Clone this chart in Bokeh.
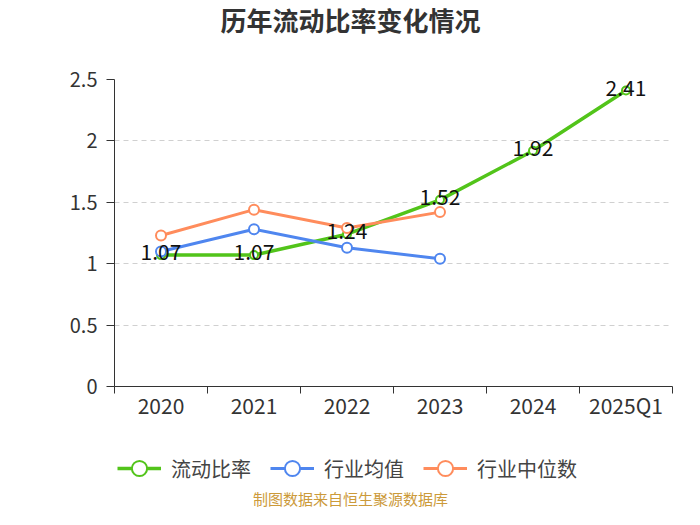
from bokeh.plotting import figure
from bokeh.models import (Range1d, FixedTicker, Legend, LegendItem, Label,
                          ColumnDataSource)
from bokeh.layouts import column
from bokeh.embed import file_html
from bokeh.resources import INLINE
from bokeh.core.properties import value

# ---- data ----
categories = ["2020", "2021", "2022", "2023", "2024", "2025Q1"]
current_ratio = [1.07, 1.07, 1.24, 1.52, 1.92, 2.41]
industry_mean = [1.10, 1.28, 1.13, 1.04]
industry_median = [1.23, 1.44, 1.29, 1.42]
y_ticks = [0, 0.5, 1, 1.5, 2, 2.5]
y_tick_labels = ["0", "0.5", "1", "1.5", "2", "2.5"]
series_names = ["流动比率", "行业均值", "行业中位数"]
title_text = "历年流动比率变化情况"
source_text = "制图数据来自恒生聚源数据库"

GREEN = "#52C41A"
BLUE = "#4F86EF"
ORANGE = "#FF8C5C"
FONT = "Noto Sans CJK SC"
W = 684
TOP_H, MAIN_H, BOT_H = 40, 400, 69
FRAME_LEFT = 114  # frames of the stacked figures are aligned by the column layout

xs = list(range(len(categories)))
n_mean = len(industry_mean)
n_med = len(industry_median)


def blank(height, x_range=None):
    f = figure(width=W, height=height, output_backend="svg", toolbar_location=None,
               x_range=x_range or Range1d(0, 1), y_range=Range1d(0, 1),
               min_border=0, min_border_left=0, min_border_right=0,
               min_border_top=0, min_border_bottom=0)
    f.axis.visible = False
    f.grid.visible = False
    f.outline_line_color = None
    f.background_fill_color = "white"
    f.border_fill_color = "white"
    return f


# ---- title strip ----
ft = blank(TOP_H)
ft.add_layout(Label(x=350 - FRAME_LEFT, y=TOP_H - 19, x_units="screen", y_units="screen",
                    text=title_text, text_align="center", text_baseline="middle",
                    text_font=FONT, text_font_size="26px", text_font_style="bold",
                    text_color="#333333"))

# ---- main chart ----
p = figure(width=W, height=MAIN_H, output_backend="svg", toolbar_location=None,
           x_range=Range1d(-0.5, len(categories) - 0.5), y_range=Range1d(0, 2.5),
           min_border_left=FRAME_LEFT, min_border_right=12, min_border_top=79 - TOP_H,
           min_border_bottom=TOP_H + MAIN_H - 386)
p.outline_line_color = None
p.background_fill_color = "white"
p.border_fill_color = "white"

p.xaxis.ticker = FixedTicker(ticks=xs, minor_ticks=[x - 0.5 for x in xs] + [xs[-1] + 0.5])
p.xaxis.major_label_overrides = {x: c for x, c in zip(xs, categories)}
p.xaxis.major_tick_line_color = None
p.xaxis.major_tick_out = 0
p.xaxis.major_tick_in = 0
p.xaxis.minor_tick_out = 7
p.xaxis.minor_tick_in = 0
p.xaxis.minor_tick_line_color = "#333333"
p.xaxis.axis_line_color = "#333333"
p.xaxis.major_label_standoff = -4
p.xaxis.major_label_text_font = FONT
p.xaxis.major_label_text_font_size = "21px"
p.xaxis.major_label_text_color = "#333333"

p.yaxis.ticker = FixedTicker(ticks=y_ticks, minor_ticks=[])
p.yaxis.major_label_overrides = {t: l for t, l in zip(y_ticks, y_tick_labels)}
p.yaxis.major_tick_out = 8
p.yaxis.major_tick_in = 0
p.yaxis.major_tick_line_color = "#333333"
p.yaxis.axis_line_color = "#333333"
p.yaxis.major_label_standoff = 9
p.yaxis.major_label_text_font = FONT
p.yaxis.major_label_text_font_size = "20px"
p.yaxis.major_label_text_color = "#333333"

p.xgrid.grid_line_color = None
p.ygrid.grid_line_color = "#d0d0d0"
p.ygrid.grid_line_dash = "5 4"
p.ygrid.grid_line_width = 1.2


def draw_series(fig):
    l1 = fig.line(xs, current_ratio, line_color=GREEN, line_width=3.5)
    l2 = fig.line(xs[:n_mean], industry_mean, line_color=BLUE, line_width=3)
    l3 = fig.line(xs[:n_med], industry_median, line_color=ORANGE, line_width=3)
    s1 = fig.scatter(xs, current_ratio, size=8, marker="circle", fill_color="white",
                     line_color=GREEN, line_width=2)
    s2 = fig.scatter(xs[:n_mean], industry_mean, size=10, marker="circle",
                     fill_color="white", line_color=BLUE, line_width=2)
    s3 = fig.scatter(xs[:n_med], industry_median, size=10, marker="circle",
                     fill_color="white", line_color=ORANGE, line_width=2)
    return (l1, s1), (l2, s2), (l3, s3)


draw_series(p)
lab_src = ColumnDataSource(dict(x=xs, y=current_ratio,
                                t=[f"{v:.2f}" for v in current_ratio]))
p.text(x="x", y="y", text="t", source=lab_src, text_align="center",
       text_baseline="middle", y_offset=-3, text_font=value(FONT),
       text_font_size="21px", text_color="#111111")

# ---- legend + source strip (series drawn off-range, used only as legend keys) ----
fb = blank(BOT_H, x_range=Range1d(100, 101))
keys = draw_series(fb)
legend = Legend(items=[LegendItem(label=n, renderers=list(k))
                       for n, k in zip(series_names, keys)],
                orientation="horizontal", location=(117 - FRAME_LEFT, 22),
                glyph_width=44, glyph_height=38, label_standoff=10, spacing=19,
                padding=0, margin=0, border_line_color=None,
                background_fill_alpha=0,
                label_text_font=FONT, label_text_font_size="20px",
                label_text_color="#444444")
fb.add_layout(legend, "center")
fb.add_layout(Label(x=350 - FRAME_LEFT, y=11, x_units="screen", y_units="screen",
                    text=source_text, text_align="center", text_baseline="middle",
                    text_font=FONT, text_font_size="15px", text_color="#CC9A3A"))

layout = column(ft, p, fb, spacing=0)
open("out.html", "w").write(file_html(layout, INLINE))
